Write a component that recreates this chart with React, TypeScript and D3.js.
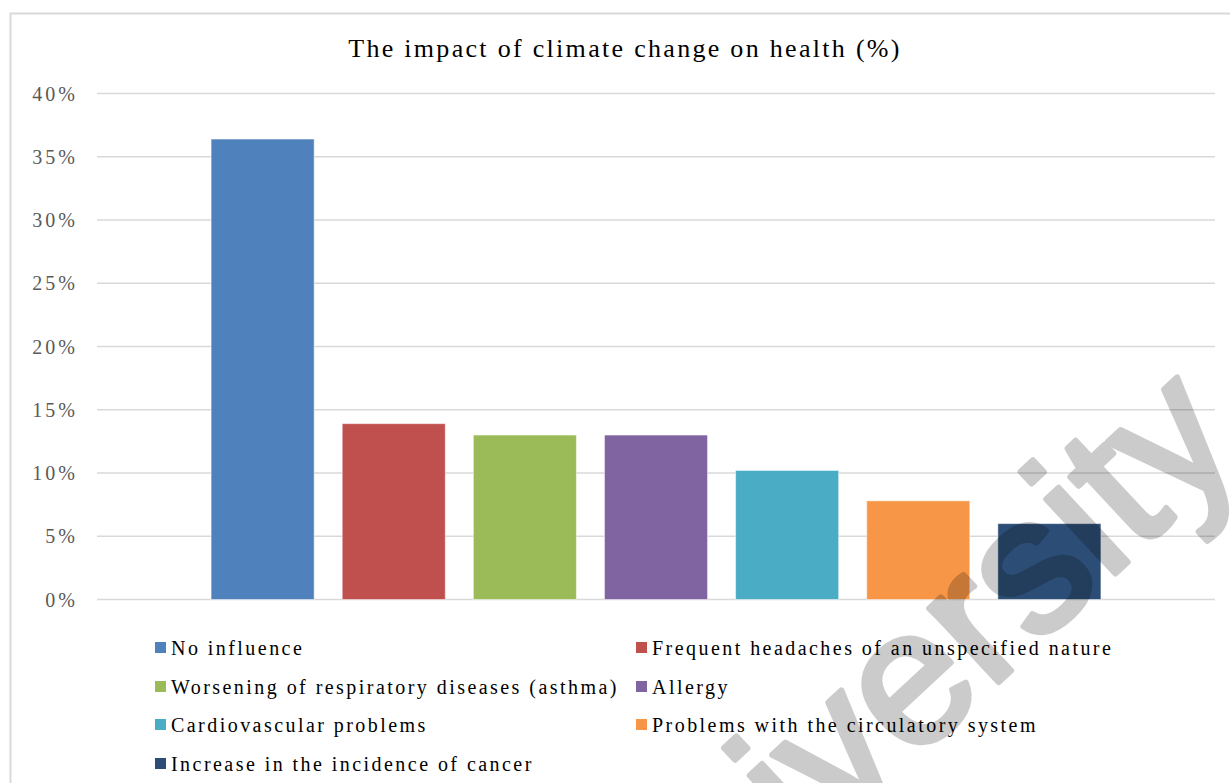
import React from "react";
import * as d3 from "d3";

const title = "The impact of climate change on health (%)";
const categories = [
  "No influence",
  "Frequent headaches of an unspecified nature",
  "Worsening of respiratory diseases (asthma)",
  "Allergy",
  "Cardiovascular problems",
  "Problems with the circulatory system",
  "Increase in the incidence of cancer",
];
const values = [0.364, 0.139, 0.13, 0.13, 0.102, 0.078, 0.06];
const colors = ["#4F81BD", "#C0504D", "#9BBB59", "#8064A2", "#4BACC6", "#F79646", "#2C4D75"];
const yTicks = [0, 0.05, 0.1, 0.15, 0.2, 0.25, 0.3, 0.35, 0.4];
const watermark = "University";

const W = 1230;
const H = 783;
const serif = "'Liberation Serif', 'Times New Roman', serif";

export default function App() {
  const x = d3
    .scaleBand<string>()
    .domain(categories)
    .range([97, 1215])
    .paddingInner(0.214)
    .paddingOuter(0.87);
  const y = d3.scaleLinear().domain([0, 0.4]).range([599.5, 93.5]);
  const fmt = d3.format(".0%");

  const legendCols = [155, 636];
  const legendRows = [648, 687, 725, 764];

  return (
    <svg
      width={W}
      height={H}
      style={{ position: "absolute", left: 0, top: 0, background: "#fff" }}
    >
      <rect x={0} y={0} width={W} height={H} fill="#fff" />
      <rect x={10.5} y={13.5} width={W + 20} height={H + 20} fill="#fff" stroke="#d9d9d9" strokeWidth={2} />
      <text
        x={625}
        y={48}
        textAnchor="middle"
        dominantBaseline="central"
        fontFamily={serif}
        fontSize={26}
        letterSpacing={2.3}
        fill="#000"
      >
        {title}
      </text>
      {yTicks.map((t) => (
        <g key={t}>
          <line x1={97} x2={1215} y1={y(t)} y2={y(t)} stroke="#d9d9d9" strokeWidth={1.5} />
          <text
            x={78}
            y={y(t)}
            textAnchor="end"
            dominantBaseline="central"
            fontFamily={serif}
            fontSize={20}
            letterSpacing={3}
            fill="#595959"
          >
            {fmt(t)}
          </text>
        </g>
      ))}
      {categories.map((c, i) => (
        <rect
          key={c}
          x={x(c)}
          y={y(values[i])}
          width={x.bandwidth()}
          height={y(0) - y(values[i])}
          fill={colors[i]}
          stroke="#fff"
          strokeOpacity={0.5}
          strokeWidth={1}
        />
      ))}
      {categories.map((c, i) => {
        const lx = legendCols[i % 2];
        const ly = legendRows[Math.floor(i / 2)];
        return (
          <g key={"l" + c}>
            <rect x={lx} y={ly - 6} width={11} height={11} fill={colors[i]} />
            <text
              x={lx + 16}
              y={ly}
              dominantBaseline="central"
              fontFamily={serif}
              fontSize={20}
              letterSpacing={2.45}
              fill="#000"
            >
              {c}
            </text>
          </g>
        );
      })}
      <g opacity={0.2}>
        <text
          transform="translate(630,1026) rotate(-43)"
          fontFamily="'Liberation Sans', Arial, sans-serif"
          fontSize={192}
          fill="#000"
          stroke="#000"
          strokeWidth={6}
          strokeLinejoin="round"
        >
          {watermark}
        </text>
      </g>
    </svg>
  );
}
